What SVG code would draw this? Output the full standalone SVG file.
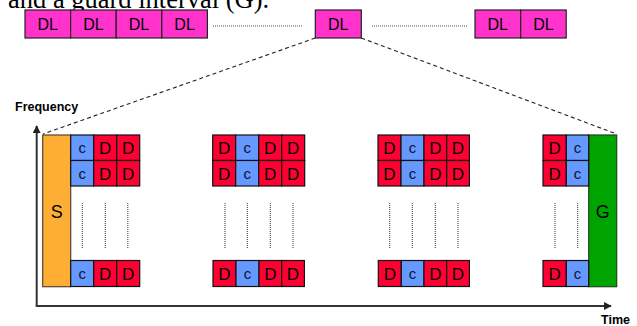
<svg xmlns="http://www.w3.org/2000/svg" width="637" height="326" viewBox="0 0 637 326">
<defs>
<style>
.dl{fill:#FF33CC;stroke:#222;stroke-width:1.2}
.d{fill:#FF0033;stroke:#111;stroke-width:1.2}
.c{fill:#6699FF;stroke:#111;stroke-width:1.2}
.t{font-family:"Liberation Sans",Arial,sans-serif;fill:#000;text-anchor:middle}
.tdl{font-size:16px}
.td{font-size:17px}
.tc{font-size:15px;fill:#111133}
.dot{stroke:#333;stroke-width:1;stroke-dasharray:1 1;fill:none}
.hdot{stroke:#555;stroke-width:1;stroke-dasharray:1 1;fill:none}
.dash{stroke:#222;stroke-width:1.1;stroke-dasharray:4 3;fill:none}
.ax{stroke:#333;stroke-width:2;fill:none}
</style>
<marker id="ah" viewBox="0 0 10 10" refX="9" refY="5" markerWidth="4" markerHeight="4" orient="auto"><path d="M0,0 L10,5 L0,10 z" fill="#222"/></marker>
</defs>
<text x="8" y="8" font-family="'Liberation Serif','Times New Roman',serif" font-size="26.5">and a guard interval (G).</text>

<g id="top-dl-left">
<rect class="dl" x="25" y="10" width="45.6" height="28"/><text class="t tdl" x="47.8" y="30">DL</text>
<rect class="dl" x="70.6" y="10" width="45.6" height="28"/><text class="t tdl" x="93.4" y="30">DL</text>
<rect class="dl" x="116.2" y="10" width="45.6" height="28"/><text class="t tdl" x="139" y="30">DL</text>
<rect class="dl" x="161.8" y="10" width="45.6" height="28"/><text class="t tdl" x="184.6" y="30">DL</text>
</g>
<g id="top-dl-mid">
<rect class="dl" x="315.3" y="10" width="46" height="28"/><text class="t tdl" x="338.3" y="30">DL</text>
</g>
<g id="top-dl-right">
<rect class="dl" x="475" y="10" width="45.7" height="28"/><text class="t tdl" x="497.8" y="30">DL</text>
<rect class="dl" x="520.7" y="10" width="45.5" height="28"/><text class="t tdl" x="543.5" y="30">DL</text>
</g>

<g id="connectors">
<line class="hdot" x1="213" y1="26" x2="303" y2="26"/>
<line class="hdot" x1="372" y1="26" x2="468" y2="26"/>
<line class="dash" x1="315.3" y1="38" x2="43" y2="134"/>
<line class="dash" x1="361.3" y1="38" x2="616.5" y2="134"/>
<line class="ax" x1="36.7" y1="306" x2="36.7" y2="126" marker-end="url(#ah)"/>
<line class="ax" x1="35.7" y1="306" x2="611" y2="306" marker-end="url(#ah)"/>
</g>

<text x="15" y="111" font-family="'Liberation Sans',Arial,sans-serif" font-size="12.5" font-weight="bold">Frequency</text>
<text x="601" y="324" font-family="'Liberation Sans',Arial,sans-serif" font-size="12.5" font-weight="bold">Time</text>

<g id="S">
<rect x="42.7" y="135" width="28" height="151.7" fill="#FFAE35" stroke="#554433" stroke-width="1.2"/>
<text class="t" x="56.7" y="218" font-size="18">S</text>
</g>
<g id="G">
<rect x="588.7" y="135" width="28" height="151.7" fill="#00A400" stroke="#224422" stroke-width="1.2"/>
<text class="t" x="602.7" y="218" font-size="18">G</text>
</g>

<g id="group1">
<rect class="c" x="70.7" y="135" width="23" height="25.5"/><text class="t tc" x="82.2" y="153">c</text>
<rect class="d" x="93.7" y="135" width="23" height="25.5"/><text class="t td" x="105.2" y="154">D</text>
<rect class="d" x="116.7" y="135" width="23" height="25.5"/><text class="t td" x="128.2" y="154">D</text>
<rect class="c" x="70.7" y="160.5" width="23" height="25.5"/><text class="t tc" x="82.2" y="178.5">c</text>
<rect class="d" x="93.7" y="160.5" width="23" height="25.5"/><text class="t td" x="105.2" y="179.5">D</text>
<rect class="d" x="116.7" y="160.5" width="23" height="25.5"/><text class="t td" x="128.2" y="179.5">D</text>
<line class="dot" x1="82.3" y1="203" x2="82.3" y2="248"/>
<line class="dot" x1="105.3" y1="203" x2="105.3" y2="248"/>
<line class="dot" x1="127.8" y1="203" x2="127.8" y2="248"/>
<rect class="c" x="70.7" y="260.5" width="23" height="26"/><text class="t tc" x="82.2" y="279">c</text>
<rect class="d" x="93.7" y="260.5" width="23" height="26"/><text class="t td" x="105.2" y="280">D</text>
<rect class="d" x="116.7" y="260.5" width="23" height="26"/><text class="t td" x="128.2" y="280">D</text>
</g>

<g id="group2">
<rect class="d" x="212.7" y="135" width="23" height="25.5"/><text class="t td" x="224.2" y="154">D</text>
<rect class="c" x="235.7" y="135" width="23" height="25.5"/><text class="t tc" x="247.2" y="153">c</text>
<rect class="d" x="258.7" y="135" width="23" height="25.5"/><text class="t td" x="270.2" y="154">D</text>
<rect class="d" x="281.7" y="135" width="23" height="25.5"/><text class="t td" x="293.2" y="154">D</text>
<rect class="d" x="212.7" y="160.5" width="23" height="25.5"/><text class="t td" x="224.2" y="179.5">D</text>
<rect class="c" x="235.7" y="160.5" width="23" height="25.5"/><text class="t tc" x="247.2" y="178.5">c</text>
<rect class="d" x="258.7" y="160.5" width="23" height="25.5"/><text class="t td" x="270.2" y="179.5">D</text>
<rect class="d" x="281.7" y="160.5" width="23" height="25.5"/><text class="t td" x="293.2" y="179.5">D</text>
<line class="dot" x1="225" y1="203" x2="225" y2="248"/>
<line class="dot" x1="247.3" y1="203" x2="247.3" y2="248"/>
<line class="dot" x1="270.3" y1="203" x2="270.3" y2="248"/>
<line class="dot" x1="293" y1="203" x2="293" y2="248"/>
<rect class="d" x="213" y="260.5" width="23" height="26"/><text class="t td" x="224.5" y="280">D</text>
<rect class="c" x="236" y="260.5" width="23" height="26"/><text class="t tc" x="247.5" y="279">c</text>
<rect class="d" x="259" y="260.5" width="22.7" height="26"/><text class="t td" x="270.3" y="280">D</text>
<rect class="d" x="281.7" y="260.5" width="22.7" height="26"/><text class="t td" x="293" y="280">D</text>
</g>

<g id="group3">
<rect class="d" x="378" y="135" width="23" height="25.5"/><text class="t td" x="389.5" y="154">D</text>
<rect class="c" x="401" y="135" width="23" height="25.5"/><text class="t tc" x="412.5" y="153">c</text>
<rect class="d" x="424" y="135" width="22.7" height="25.5"/><text class="t td" x="435.4" y="154">D</text>
<rect class="d" x="446.7" y="135" width="22.7" height="25.5"/><text class="t td" x="458" y="154">D</text>
<rect class="d" x="378" y="160.5" width="23" height="25.5"/><text class="t td" x="389.5" y="179.5">D</text>
<rect class="c" x="401" y="160.5" width="23" height="25.5"/><text class="t tc" x="412.5" y="178.5">c</text>
<rect class="d" x="424" y="160.5" width="22.7" height="25.5"/><text class="t td" x="435.4" y="179.5">D</text>
<rect class="d" x="446.7" y="160.5" width="22.7" height="25.5"/><text class="t td" x="458" y="179.5">D</text>
<line class="dot" x1="389.7" y1="203" x2="389.7" y2="248"/>
<line class="dot" x1="412.3" y1="203" x2="412.3" y2="248"/>
<line class="dot" x1="435.3" y1="203" x2="435.3" y2="248"/>
<line class="dot" x1="458" y1="203" x2="458" y2="248"/>
<rect class="d" x="378.3" y="260.5" width="23" height="26"/><text class="t td" x="389.8" y="280">D</text>
<rect class="c" x="401.3" y="260.5" width="22.7" height="26"/><text class="t tc" x="412.6" y="279">c</text>
<rect class="d" x="424" y="260.5" width="22.7" height="26"/><text class="t td" x="435.4" y="280">D</text>
<rect class="d" x="446.7" y="260.5" width="22.7" height="26"/><text class="t td" x="458" y="280">D</text>
</g>

<g id="group4">
<rect class="d" x="543" y="135" width="23.3" height="25.5"/><text class="t td" x="554.6" y="154">D</text>
<rect class="c" x="566.3" y="135" width="22.4" height="25.5"/><text class="t tc" x="577.5" y="153">c</text>
<rect class="d" x="543" y="160.5" width="23.3" height="25.5"/><text class="t td" x="554.6" y="179.5">D</text>
<rect class="c" x="566.3" y="160.5" width="22.4" height="25.5"/><text class="t tc" x="577.5" y="178.5">c</text>
<line class="dot" x1="555" y1="203" x2="555" y2="248"/>
<line class="dot" x1="577.7" y1="203" x2="577.7" y2="248"/>
<rect class="d" x="543" y="260.5" width="23.3" height="26"/><text class="t td" x="554.6" y="280">D</text>
<rect class="c" x="566.3" y="260.5" width="22.4" height="26"/><text class="t tc" x="577.5" y="279">c</text>
</g>
</svg>
